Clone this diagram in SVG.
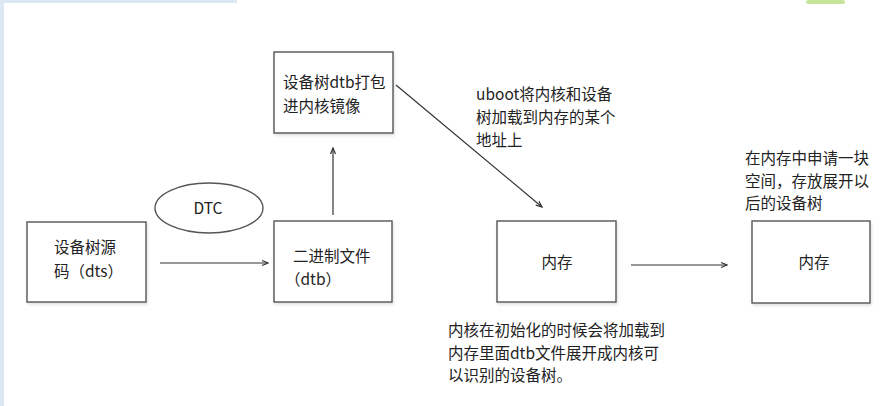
<svg xmlns="http://www.w3.org/2000/svg" width="893" height="406" viewBox="0 0 893 406">
<style>
.box{fill:#fff;stroke:#555;stroke-width:1.4}
.t{font-family:"Noto Sans CJK SC","Noto Sans",sans-serif;font-size:15.5px;fill:#222}
.c{stroke:#333;stroke-width:1.2;fill:none}
</style>
<defs>
<marker id="ah" markerWidth="8" markerHeight="8" refX="7" refY="4" orient="auto" markerUnits="userSpaceOnUse">
<path d="M1,1.5 L7,4 L1,6.5" fill="none" stroke="#333" stroke-width="1.2"/>
</marker>
<filter id="sh" x="-5%" y="-5%" width="115%" height="120%">
<feDropShadow dx="1" dy="2" stdDeviation="1.5" flood-color="#000" flood-opacity="0.12"/>
</filter>
</defs>
<rect width="893" height="406" fill="#fff"/>
<rect x="0" y="0" width="4" height="406" fill="#dde6f3"/>
<rect x="0" y="0" width="237" height="3" fill="#dde6f3"/>
<rect x="806" y="0" width="39" height="4" rx="2" fill="#c6e59a"/>
<g id="connectors">
<line class="c" x1="160" y1="263" x2="268" y2="263" marker-end="url(#ah)"/>
<line class="c" x1="333" y1="215" x2="333" y2="148" marker-end="url(#ah)"/>
<line class="c" x1="396" y1="85" x2="542" y2="207" marker-end="url(#ah)"/>
<line class="c" x1="631" y1="265" x2="727" y2="265" marker-end="url(#ah)"/>
</g>
<g id="node-dts">
<rect class="box" x="27" y="222" width="119" height="80" filter="url(#sh)"/>
<text class="t" x="54" y="253">设备树源</text>
<text class="t" x="54" y="277">码（dts）</text>
</g>
<g id="node-dtc">
<ellipse class="box" cx="209" cy="208" rx="54" ry="25"/>
<text class="t" x="208" y="214" text-anchor="middle">DTC</text>
</g>
<g id="node-dtb">
<rect class="box" x="274" y="221" width="118" height="81" filter="url(#sh)"/>
<text class="t" x="293" y="262">二进制文件</text>
<text class="t" x="285" y="285">（dtb）</text>
</g>
<g id="node-image">
<rect class="box" x="274" y="52" width="119" height="81" filter="url(#sh)"/>
<text class="t" x="283" y="88">设备树dtb打包</text>
<text class="t" x="283" y="112">进内核镜像</text>
</g>
<g id="label-uboot">
<text class="t" x="476" y="100">uboot将内核和设备</text>
<text class="t" x="476" y="123">树加载到内存的某个</text>
<text class="t" x="476" y="146">地址上</text>
</g>
<g id="node-mem1">
<rect class="box" x="497" y="221" width="119" height="81" filter="url(#sh)"/>
<text class="t" x="557" y="268" text-anchor="middle">内存</text>
</g>
<g id="label-kernel">
<text class="t" x="448" y="336">内核在初始化的时候会将加载到</text>
<text class="t" x="448" y="359">内存里面dtb文件展开成内核可</text>
<text class="t" x="448" y="381">以识别的设备树。</text>
</g>
<g id="node-mem2">
<rect class="box" x="752" y="221" width="118" height="82" filter="url(#sh)"/>
<text class="t" x="814" y="268" text-anchor="middle">内存</text>
</g>
<g id="label-alloc">
<text class="t" x="745" y="164">在内存中申请一块</text>
<text class="t" x="745" y="187">空间，存放展开以</text>
<text class="t" x="745" y="209">后的设备树</text>
</g>
</svg>
